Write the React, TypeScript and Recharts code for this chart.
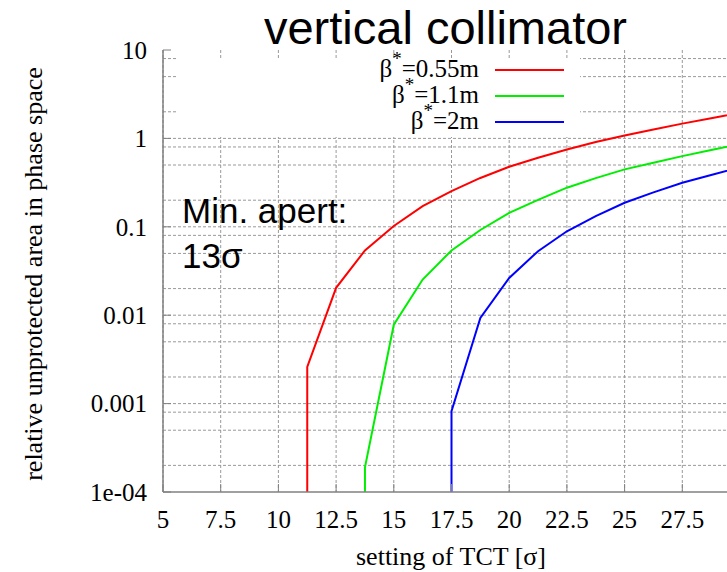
import { CartesianGrid, Legend, Line, LineChart, XAxis, YAxis } from "recharts";

const SERIF = '"Liberation Serif", "Times New Roman", serif';
const SANS = '"Liberation Sans", Arial, sans-serif';

// axis ticks (the plot runs to 30, but the picture is cropped just before it)
const xTicks = [5, 7.5, 10, 12.5, 15, 17.5, 20, 22.5, 25, 27.5];
const yTicks = [1e-4, 1e-3, 0.01, 0.1, 1, 10];
const yTickLabels = ["1e-04", "0.001", "0.01", "0.1", "1", "10"];
const yDomain = [1e-4, 10];
// horizontal grid lines (2, 5, 8 and 10 per decade)
const yGrid = [2e-4, 5e-4, 8e-4, 1e-3, 2e-3, 5e-3, 8e-3, 0.01, 0.02, 0.05, 0.08, 0.1, 0.2, 0.5, 0.8, 1, 2, 5, 8];

// beta* = 0.55 m
const redX = [11.25, 11.25, 12.5, 13.75, 15, 16.25, 17.5, 18.75, 20, 21.25, 22.5, 23.75, 25, 26.25, 27.5, 28.75, 30];
const redY = [1e-4, 0.0026, 0.0204, 0.054, 0.102, 0.171, 0.253, 0.357, 0.478, 0.605, 0.75, 0.91, 1.08, 1.26, 1.47, 1.69, 1.95];

// beta* = 1.1 m
const greenX = [13.75, 13.75, 15, 16.25, 17.5, 18.75, 20, 21.25, 22.5, 23.75, 25, 26.25, 27.5, 28.75, 30];
const greenY = [1e-4, 0.00019, 0.0078, 0.0253, 0.054, 0.092, 0.144, 0.202, 0.277, 0.355, 0.446, 0.53, 0.63, 0.74, 0.86];

// beta* = 2 m
const blueX = [17.5, 17.5, 18.75, 20, 21.25, 22.5, 23.75, 25, 26.25, 27.5, 28.75, 30];
const blueY = [1e-4, 0.00082, 0.0093, 0.0264, 0.053, 0.089, 0.132, 0.187, 0.245, 0.315, 0.385, 0.47];

const toPoints = (xs: number[], ys: number[]) => xs.map((x, i) => ({ x, y: ys[i] }));

const series = [
  { name: "β*=0.55m", color: "#ff0000", data: toPoints(redX, redY) },
  { name: "β*=1.1m", color: "#00ee00", data: toPoints(greenX, greenY) },
  { name: "β*=2m", color: "#0000ff", data: toPoints(blueX, blueY) },
];

const formatY = (v: number) => {
  const i = yTicks.findIndex((t) => Math.abs(Math.log10(t) - Math.log10(v)) < 1e-6);
  return i >= 0 ? yTickLabels[i] : String(v);
};

// log-axis grid positions; uses the axis scale when it is exposed
const gridRows = ({ yAxis, offset }: any) =>
  yGrid.map((v) => {
    const sc = yAxis?.scale;
    if (typeof sc === "function") return sc(v);
    if (sc && typeof sc.map === "function") return sc.map(v);
    const lo = Math.log10(yDomain[0]);
    const hi = Math.log10(yDomain[1]);
    return offset.top + offset.height * (1 - (Math.log10(v) - lo) / (hi - lo));
  });

function BetaLegend({ payload }: any) {
  return (
    <div style={{ position: "relative", width: 402, height: 79, background: "#fff", fontFamily: SERIF, fontSize: 25, color: "#000" }}>
      {(payload ?? []).map((p: any, i: number) => {
        const [head, tail] = String(p.value).split("*");
        return (
          <div
            key={p.value}
            style={{ position: "absolute", left: 0, top: i * 26 - 4, height: 32, display: "flex", alignItems: "center" }}
          >
            <span style={{ width: 301, textAlign: "right", whiteSpace: "nowrap", lineHeight: "32px" }}>
              {head}
              <span style={{ position: "relative", top: -12, fontSize: 19 }}>*</span>
              {tail}
            </span>
            <span style={{ display: "inline-block", marginLeft: 16, width: 69, height: 2, background: p.color }} />
          </div>
        );
      })}
    </div>
  );
}

export default function App() {
  return (
    <div style={{ position: "absolute", left: 0, top: 0, width: 727, height: 572, overflow: "hidden", background: "#fff" }}>
      <LineChart width={780} height={572} margin={{ top: 50, right: 40, bottom: 0, left: 0 }}>
        <CartesianGrid stroke="#999" strokeDasharray="3 2" horizontalCoordinatesGenerator={gridRows} />
        <XAxis
          dataKey="x"
          type="number"
          domain={[5, 30]}
          ticks={xTicks}
          interval={0}
          allowDataOverflow
          height={80}
          tickSize={-8}
          tickMargin={26}
          axisLine={{ stroke: "#808080", strokeWidth: 1.5 }}
          tickLine={{ stroke: "#808080" }}
          tick={{ fill: "#000", fontSize: 25, fontFamily: SERIF }}
        />
        <XAxis
          xAxisId="top"
          orientation="top"
          type="number"
          domain={[5, 30]}
          ticks={xTicks}
          interval={0}
          allowDataOverflow
          height={0}
          tickSize={-8}
          tick={false}
          axisLine={{ stroke: "#808080", strokeWidth: 1.5 }}
          tickLine={{ stroke: "#808080" }}
        />
        <YAxis
          type="number"
          scale="log"
          domain={yDomain}
          ticks={yTicks}
          interval={0}
          allowDataOverflow
          width={163}
          tickSize={-8}
          tickMargin={24}
          tickFormatter={formatY}
          axisLine={{ stroke: "#808080", strokeWidth: 1.5 }}
          tickLine={{ stroke: "#808080" }}
          tick={{ fill: "#000", fontSize: 25, fontFamily: SERIF }}
        />
        <Legend
          layout="horizontal"
          verticalAlign="middle"
          align="center"
          wrapperStyle={{ left: 178, top: 58, width: 402, height: 79 }}
          content={(props: any) => <BetaLegend {...props} />}
        />
        {series.map((s) => (
          <Line
            key={s.name}
            data={s.data}
            dataKey="y"
            name={s.name}
            type="linear"
            stroke={s.color}
            strokeWidth={2}
            dot={false}
            activeDot={false}
            isAnimationActive={false}
          />
        ))}
      </LineChart>
      <svg width={727} height={572} style={{ position: "absolute", left: 0, top: 0, pointerEvents: "none" }}>
        <text x={445.5} y={44} textAnchor="middle" fontFamily={SANS} fontSize={47} fill="#000">
          vertical collimator
        </text>
        <text x={182} y={223} fontFamily={SANS} fontSize={35} fill="#000">
          Min. apert:
        </text>
        <text x={182} y={268} fontFamily={SANS} fontSize={35} fill="#000">
          13σ
        </text>
        <text x={42} y={274} transform="rotate(-90 42 274)" textAnchor="middle" fontFamily={SERIF} fontSize={26} fill="#000">
          relative unprotected area in phase space
        </text>
        <text x={451} y={565} textAnchor="middle" fontFamily={SERIF} fontSize={26} fill="#000">
          setting of TCT [σ]
        </text>
      </svg>
    </div>
  );
}
